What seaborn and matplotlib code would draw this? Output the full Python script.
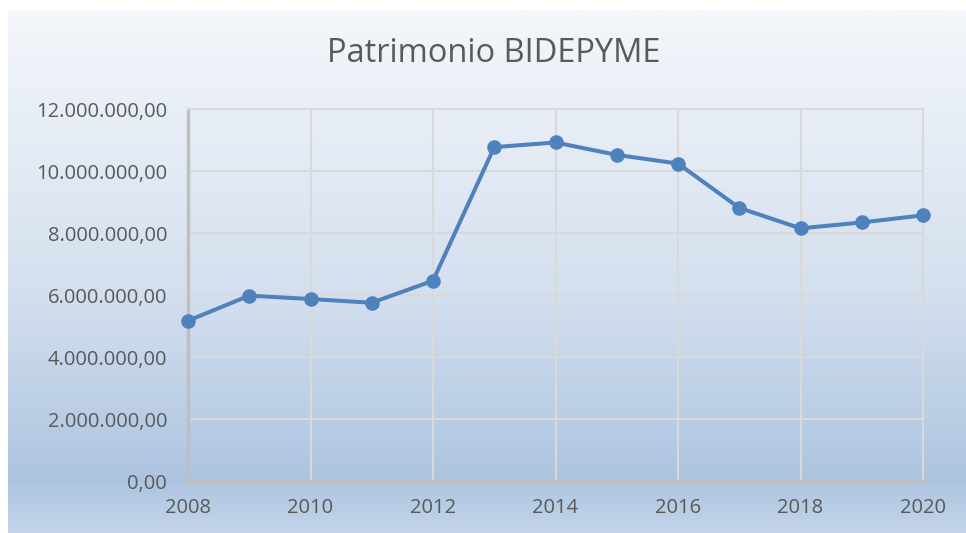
import numpy as np
import pandas as pd
import matplotlib
matplotlib.use('Agg')
import matplotlib.pyplot as plt
import seaborn as sns
from matplotlib.colors import LinearSegmentedColormap
from matplotlib.ticker import FuncFormatter, MultipleLocator

# Data
years = [2008, 2009, 2010, 2011, 2012, 2013, 2014, 2015, 2016, 2017, 2018, 2019, 2020]
patrimonio = [5170000, 5980000, 5870000, 5750000, 6460000, 10770000, 10920000,
              10520000, 10240000, 8810000, 8150000, 8340000, 8570000]
title = 'Patrimonio BIDEPYME'

df = pd.DataFrame({'year': years, 'patrimonio': patrimonio})

sns.set_style('white')
plt.rcParams['font.family'] = ['Open Sans', 'DejaVu Sans']

fig = plt.figure(figsize=(9.66, 5.33), dpi=100)

# gradient background of the chart area
bg = fig.add_axes([8 / 966, 0, 1 - 8 / 966, 1 - 10 / 533], zorder=-1)
cmap = LinearSegmentedColormap.from_list(
    'bg', [(0, '#f4f7fb'), (0.55, '#d3dfee'), (0.9, '#adc4e0'), (1.0, '#c3d4e9')])
grad = np.linspace(0, 1, 256).reshape(-1, 1)
bg.imshow(grad, aspect='auto', cmap=cmap, extent=[0, 1, 1, 0])
bg.axis('off')

ax = fig.add_axes([188 / 966, 1 - 481 / 533, (923 - 188) / 966, (481 - 109) / 533])
ax.set_facecolor('none')

sns.lineplot(data=df, x='year', y='patrimonio', ax=ax, color='#4f81bd',
             linewidth=2.9, marker='o', markersize=10.5, markeredgewidth=0, zorder=3)
for line in ax.lines:
    line.set_clip_on(False)

ax.set_xlim(2008, 2020)
ax.set_ylim(0, 12000000)
ax.xaxis.set_major_locator(MultipleLocator(2))
ax.yaxis.set_major_locator(MultipleLocator(2000000))
ax.yaxis.set_major_formatter(FuncFormatter(
    lambda v, p: f'{v:,.2f}'.replace(',', 'X').replace('.', ',').replace('X', '.')))

ax.grid(True, color='#d9d9d9', linewidth=1.5)
ax.set_axisbelow(True)
for s in ['top', 'right']:
    ax.spines[s].set_color('#d9d9d9')
    ax.spines[s].set_linewidth(1.5)
for s in ['left', 'bottom']:
    ax.spines[s].set_color('#bfbfbf')
    ax.spines[s].set_linewidth(2.5)
    ax.spines[s].set_zorder(2.5)

ax.tick_params(axis='both', length=0, labelsize=14.5, labelcolor='#595959')
ax.tick_params(axis='y', pad=15)
ax.tick_params(axis='x', pad=12)
ax.set_xlabel('')
ax.set_ylabel('')

fig.text(494 / 966, 1 - 53 / 533, title, ha='center', va='center',
         fontsize=23.5, color='#595959')

fig.savefig('out.png', dpi=100)
